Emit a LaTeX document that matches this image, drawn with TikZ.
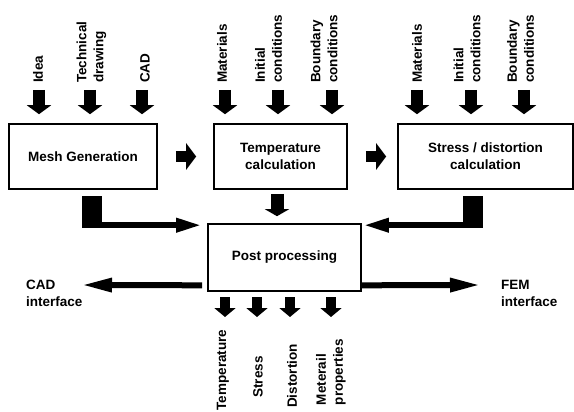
\documentclass[tikz,border=0pt]{standalone}
\usepackage{fontspec}
\setmainfont{Liberation Sans}
\usetikzlibrary{arrows.meta}
\begin{document}
\begin{tikzpicture}[x=1pt,y=-1pt,
  every node/.style={font=\bfseries\fontsize{13.5}{17}\selectfont, inner sep=0pt},
  box/.style={draw, line width=1.6pt, align=center},
  vlab/.style={rotate=90, anchor=west, align=left},
  olab/.style={rotate=90, anchor=center, align=left},
  bigarr/.style={line width=12pt, -{Triangle[length=9pt,width=24pt]}},
  outarr/.style={line width=10pt, -{Triangle[length=9pt,width=21pt]}},
  thinarr/.style={line width=6pt, -{Triangle[length=26pt,width=13pt]}},
  blk/.style={fill=black, minimum width=20pt, minimum height=32pt},
]
\useasboundingbox (0,0) rectangle (574,412);

% main boxes
\node[box, minimum width=148pt, minimum height=65pt] (mesh) at (83,156.5) {Mesh Generation};
\node[box, minimum width=133pt, minimum height=65pt] (temp) at (280.5,156.5) {Temperature\\calculation};
\node[box, minimum width=175pt, minimum height=65pt] (stress) at (485.5,156.5) {Stress / distortion\\calculation};
\node[box, minimum width=153pt, minimum height=67pt] (post) at (284.5,257.5) {Post processing};

% input labels
\node[vlab] (idea) at (38,83) {Idea};
\node[vlab] (tech) at (91.5,83) {Technical\\drawing};
\node[vlab] (cad) at (145,83) {CAD};
\node[vlab] (mat1) at (222,83) {Materials};
\node[vlab] (ini1) at (268.5,83) {Initial\\conditions};
\node[vlab] (bnd1) at (324,83) {Boundary\\conditions};
\node[vlab] (mat2) at (417,83) {Materials};
\node[vlab] (ini2) at (467,83) {Initial\\conditions};
\node[vlab] (bnd2) at (520.5,83) {Boundary\\conditions};

% input arrows
\foreach \x/\b in {39/mesh,90/mesh,142/mesh,225/temp,278/temp,332/temp,417/stress,471/stress,524/stress}
  { \coordinate (s) at (\x,90); \draw[bigarr] (s) -- ([yshift=9pt]s |- \b.north); }

% box to box arrows
\draw[line width=11pt, -{Triangle[length=10pt,width=26pt]}] ([xshift=18pt]mesh.east) -- ([xshift=-17pt]temp.west);
\draw[line width=11pt, -{Triangle[length=10pt,width=26pt]}] ([xshift=18pt]temp.east) -- ([xshift=-11pt]stress.west);
\draw[line width=13pt, -{Triangle[length=7pt,width=24pt]}] ([xshift=-3.5pt,yshift=-4pt]temp.south) -- ([xshift=-3.5pt,yshift=7pt]temp.south |- post.north);

% elbow arrows
\node[blk] (bL) at (92,212) {};
\node[blk] (bR) at (473,212) {};
\draw[thinarr] ([xshift=-1pt,yshift=3pt]bL.south east) -- ([xshift=-5pt,yshift=-2pt]post.north west);
\draw[thinarr] ([xshift=1pt,yshift=3pt]bR.south west) -- ([xshift=1pt,yshift=-2pt]post.north east);

% interfaces
\node[anchor=north west, align=left] (cadi) at (26,280) {CAD\\interface};
\node[anchor=north west, align=left] (femi) at (501,280) {FEM\\interface};
\coordinate (cadtip) at (81,285);
\coordinate (femtip) at (481,285);
\draw[thinarr, -{Triangle[length=31pt,width=13pt]}] ([xshift=-5pt,yshift=6.5pt]post.south west) -- (cadtip);
\draw[thinarr, -{Triangle[length=31pt,width=13pt]}] ([yshift=6.5pt]post.south east) -- (femtip);

% outputs
\foreach \x in {225,257,290,331}
  { \coordinate (o) at (\x,297); \draw[outarr] (o) -- ([yshift=-20pt]o); }
\node[olab] (oT) at (223,370) {Temperature};
\node[olab] (oS) at (258,377) {Stress};
\node[olab] (oD) at (292,376) {Distortion};
\node[olab] (oM) at (331,372) {Meterail\\properties};
\end{tikzpicture}
\end{document}
